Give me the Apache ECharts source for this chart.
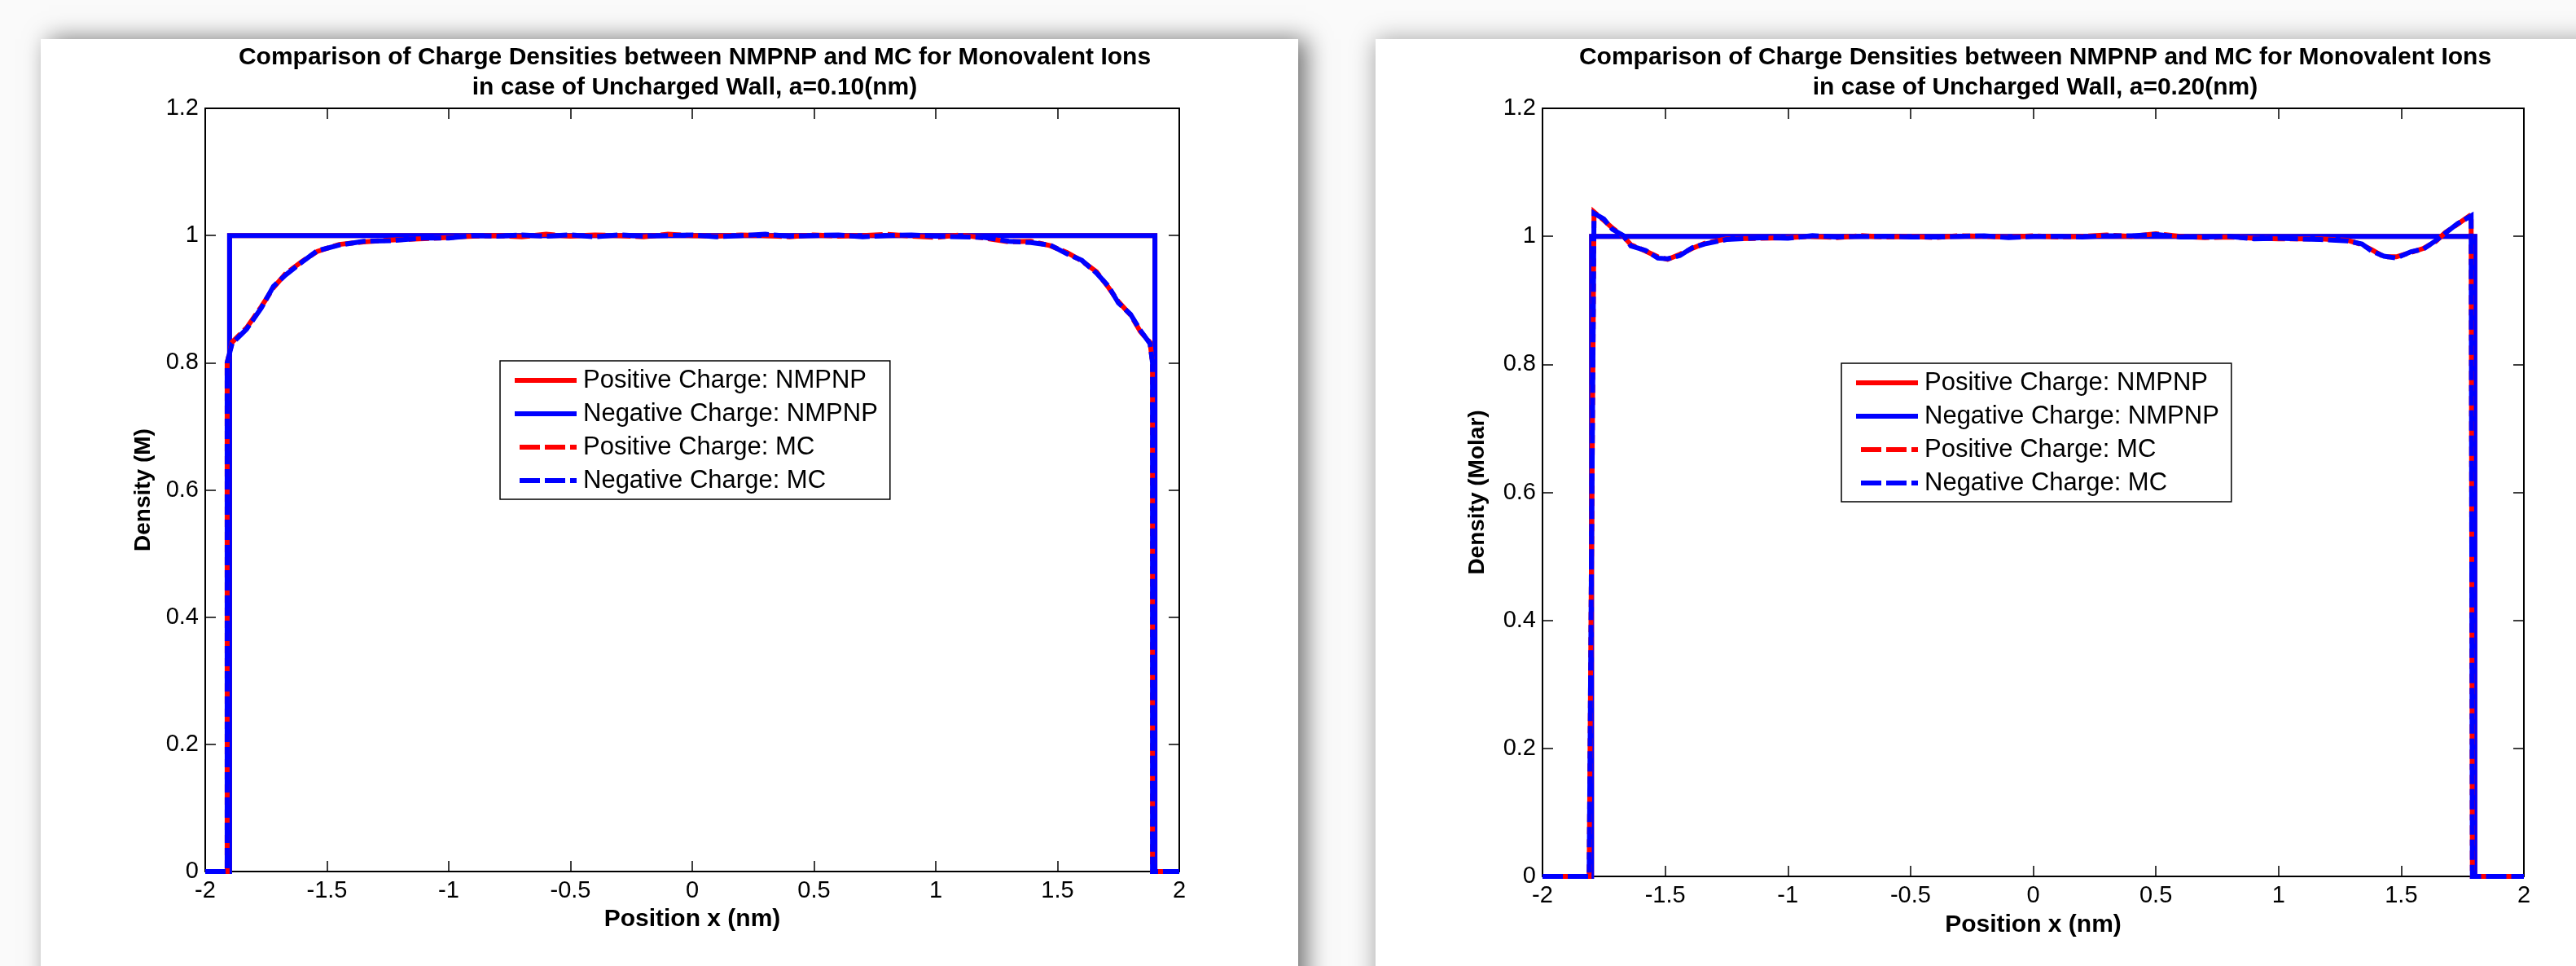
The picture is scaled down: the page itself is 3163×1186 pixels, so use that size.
<!DOCTYPE html>
<html>
<head>
<meta charset="utf-8">
<script src="https://cdn.jsdelivr.net/npm/echarts@6/dist/echarts.min.js"></script>
<style>
html,body{margin:0;padding:0;background:#fafafa;}
#chart{width:3163px;height:1186px;}
</style>
</head>
<body>
<div id="chart"></div>
<script>
// ---------- Data ----------
const seriesNames = ['Positive Charge: NMPNP','Negative Charge: NMPNP','Positive Charge: MC','Negative Charge: MC'];

// Left panel, a = 0.10 nm
const L_nmpnpX = [-2, -1.9, -1.9, 1.9, 1.9, 2];
const L_nmpnpY = [0, 0, 1, 1, 0, 0];

const L_mcX = [-2, -1.91, -1.91, -1.89, -1.83, -1.77, -1.72, -1.67, -1.6, -1.54, -1.45, -1.35, -1.24, -1.1, -1.0, -0.9, -0.8, -0.7, -0.6, -0.5, -0.4, -0.3, -0.2, -0.1, 0, 0.1, 0.2, 0.3, 0.4, 0.5, 0.6, 0.7, 0.8, 0.9, 1.0, 1.1, 1.2, 1.3, 1.39, 1.47, 1.54, 1.6, 1.66, 1.71, 1.75, 1.8, 1.84, 1.88, 1.89, 1.89, 2];
const L_mcPosY = [0, 0, 0.80, 0.832, 0.855, 0.888, 0.918, 0.940, 0.960, 0.975, 0.986, 0.990, 0.993, 0.995, 0.997, 0.999, 1.000, 0.998, 1.002, 0.999, 1.001, 1.000, 0.998, 1.002, 1.000, 0.999, 1.001, 1.000, 0.998, 1.001, 0.999, 1.000, 1.002, 0.999, 0.997, 1.001, 0.996, 0.990, 0.991, 0.984, 0.973, 0.960, 0.943, 0.918, 0.896, 0.875, 0.849, 0.832, 0.80, 0, 0];
const L_mcNegY = [0, 0, 0.80, 0.830, 0.853, 0.886, 0.920, 0.938, 0.959, 0.976, 0.985, 0.991, 0.992, 0.996, 0.996, 1.000, 0.999, 1.001, 0.999, 1.001, 0.998, 1.001, 0.999, 1.000, 1.001, 0.998, 1.000, 1.002, 0.999, 1.000, 1.001, 0.998, 1.000, 1.001, 0.999, 0.998, 0.997, 0.991, 0.989, 0.985, 0.971, 0.961, 0.941, 0.920, 0.894, 0.876, 0.851, 0.830, 0.80, 0, 0];

// Right panel, a = 0.20 nm
const R_nmpnpX = [-2, -1.8, -1.8, 1.8, 1.8, 2];
const R_nmpnpY = [0, 0, 1, 1, 0, 0];

const R_mcX = [-2, -1.81, -1.79, -1.75, -1.715, -1.67, -1.64, -1.58, -1.53, -1.49, -1.44, -1.39, -1.34, -1.25, -1.1, -1.0, -0.9, -0.8, -0.7, -0.6, -0.5, -0.4, -0.3, -0.2, -0.1, 0, 0.1, 0.2, 0.3, 0.4, 0.5, 0.6, 0.7, 0.8, 0.9, 1.0, 1.17, 1.28, 1.34, 1.38, 1.43, 1.48, 1.54, 1.59, 1.64, 1.68, 1.73, 1.785, 1.79, 2];
const R_mcPosY = [0, 0, 1.038, 1.025, 1.013, 1.000, 0.987, 0.977, 0.968, 0.964, 0.972, 0.981, 0.989, 0.996, 0.997, 0.998, 1.000, 0.998, 1.001, 0.999, 1.000, 0.998, 1.001, 1.000, 0.999, 1.001, 0.999, 1.000, 1.002, 1.000, 1.004, 1.000, 0.998, 0.999, 0.997, 0.996, 0.996, 0.994, 0.987, 0.979, 0.968, 0.968, 0.975, 0.981, 0.992, 1.006, 1.019, 1.034, 0, 0];
const R_mcNegY = [0, 0, 1.036, 1.027, 1.011, 1.001, 0.985, 0.978, 0.966, 0.965, 0.970, 0.982, 0.988, 0.995, 0.998, 0.997, 1.001, 0.999, 1.000, 1.000, 0.999, 0.999, 1.000, 1.001, 0.998, 1.000, 1.000, 0.999, 1.001, 1.001, 1.003, 0.999, 0.999, 1.000, 0.996, 0.997, 0.995, 0.993, 0.988, 0.977, 0.969, 0.966, 0.976, 0.980, 0.993, 1.005, 1.020, 1.032, 0, 0];

const xTickInterval = 0.5;
const yTickInterval = 0.2;

// ---------- Helpers ----------
function zip(xs, ys){ return xs.map((x,i)=>[x, ys[i]]); }
const FONT = "'Liberation Sans', Arial, Helvetica, sans-serif";
const RED = '#ff0000', BLUE = '#0000ff';
const DASH = [25,6];

function axisX(grid, pos, showLabel, name, nameGap){
  return {
    gridIndex: grid, type:'value', position: pos, min:-2, max:2, interval:xTickInterval,
    axisLine:{show:true, onZero:false, lineStyle:{color:'#000', width:2}},
    axisTick:{show:true, inside:true, length:13, lineStyle:{color:'#000', width:1.5}},
    axisLabel:{show:showLabel, fontSize:29, color:'#000', margin:9, fontFamily:FONT},
    splitLine:{show:false},
    name: name || '', nameLocation:'middle', nameGap: nameGap || 0,
    nameTextStyle:{fontSize:30, fontWeight:'bold', color:'#000', fontFamily:FONT}
  };
}
function axisY(grid, pos, showLabel, name, nameGap){
  return {
    gridIndex: grid, type:'value', position: pos, min:0, max:1.2, interval:yTickInterval,
    axisLine:{show:true, onZero:false, lineStyle:{color:'#000', width:2}},
    axisTick:{show:true, inside:true, length:13, lineStyle:{color:'#000', width:1.5}},
    axisLabel:{show:showLabel, fontSize:29, color:'#000', margin:8, fontFamily:FONT},
    splitLine:{show:false},
    name: name || '', nameLocation:'middle', nameGap: nameGap || 0,
    nameTextStyle:{fontSize:28, fontWeight:'bold', color:'#000', fontFamily:FONT}
  };
}
function line(name, grid, data, color, dashed, offset){
  return {
    name, type:'line', xAxisIndex: grid*2, yAxisIndex: grid*2, data,
    showSymbol:false, symbol:'none', animation:false, silent:true,
    lineStyle:{color, width:6, type: dashed ? DASH : 'solid', dashOffset: offset||0, cap:'butt', join:'miter'},
    itemStyle:{color}
  };
}
function legend(left, top){
  return {
    left, top, orient:'vertical', padding:[7,15,6,15],
    itemWidth:76, itemHeight:14, itemGap:7,
    backgroundColor:'#fff', borderColor:'#000', borderWidth:1.5, borderRadius:0,
    selectedMode:false,
    itemStyle:{opacity:0},
    lineStyle:{width:6, dashOffset:25},
    textStyle:{fontSize:31, lineHeight:34, color:'#000', fontFamily:FONT, padding:[0,0,0,3]},
    data: seriesNames
  };
}

const chart = echarts.init(document.getElementById('chart'));
chart.setOption({
  backgroundColor:'#fafafa',
  animation:false,
  graphic:[
    {type:'rect', z:-10, shape:{x:50, y:48, width:1544, height:1250}, style:{fill:'#fff', shadowBlur:28, shadowColor:'rgba(0,0,0,0.55)', shadowOffsetX:10, shadowOffsetY:0}},
    {type:'rect', z:-10, shape:{x:1689, y:48, width:1520, height:1250}, style:{fill:'#fff', shadowBlur:28, shadowColor:'rgba(0,0,0,0.35)', shadowOffsetX:0, shadowOffsetY:0}}
  ],
  title:[
    {text:'Comparison of Charge Densities between NMPNP and MC for Monovalent Ions\nin case of Uncharged Wall, a=0.10(nm)',
     left:848, top:47, textAlign:'center',
     textStyle:{fontSize:30, fontWeight:'bold', lineHeight:37, color:'#000', fontFamily:FONT}},
    {text:'Comparison of Charge Densities between NMPNP and MC for Monovalent Ions\nin case of Uncharged Wall, a=0.20(nm)',
     left:2494, top:47, textAlign:'center',
     textStyle:{fontSize:30, fontWeight:'bold', lineHeight:37, color:'#000', fontFamily:FONT}}
  ],
  grid:[
    {left:252, top:133, width:1196, height:937},
    {left:1894, top:133, width:1205, height:943}
  ],
  xAxis:[
    axisX(0,'bottom',true,'Position x (nm)',44), axisX(0,'top',false),
    axisX(1,'bottom',true,'Position x (nm)',45), axisX(1,'top',false)
  ],
  yAxis:[
    axisY(0,'left',true,'Density (M)',62), axisY(0,'right',false),
    axisY(1,'left',true,'Density (Molar)',66), axisY(1,'right',false)
  ],
  legend:[ legend(614,443), legend(2261,446) ],
  series:[
    line(seriesNames[0],0,zip(L_nmpnpX,L_nmpnpY),RED,false),
    line(seriesNames[1],0,zip(L_nmpnpX,L_nmpnpY),BLUE,false),
    line(seriesNames[2],0,zip(L_mcX,L_mcPosY),RED,true,15),
    line(seriesNames[3],0,zip(L_mcX,L_mcNegY),BLUE,true,0),
    line(seriesNames[0],1,zip(R_nmpnpX,R_nmpnpY),RED,false),
    line(seriesNames[1],1,zip(R_nmpnpX,R_nmpnpY),BLUE,false),
    line(seriesNames[2],1,zip(R_mcX,R_mcPosY),RED,true,15),
    line(seriesNames[3],1,zip(R_mcX,R_mcNegY),BLUE,true,0)
  ]
});
</script>
</body>
</html>
